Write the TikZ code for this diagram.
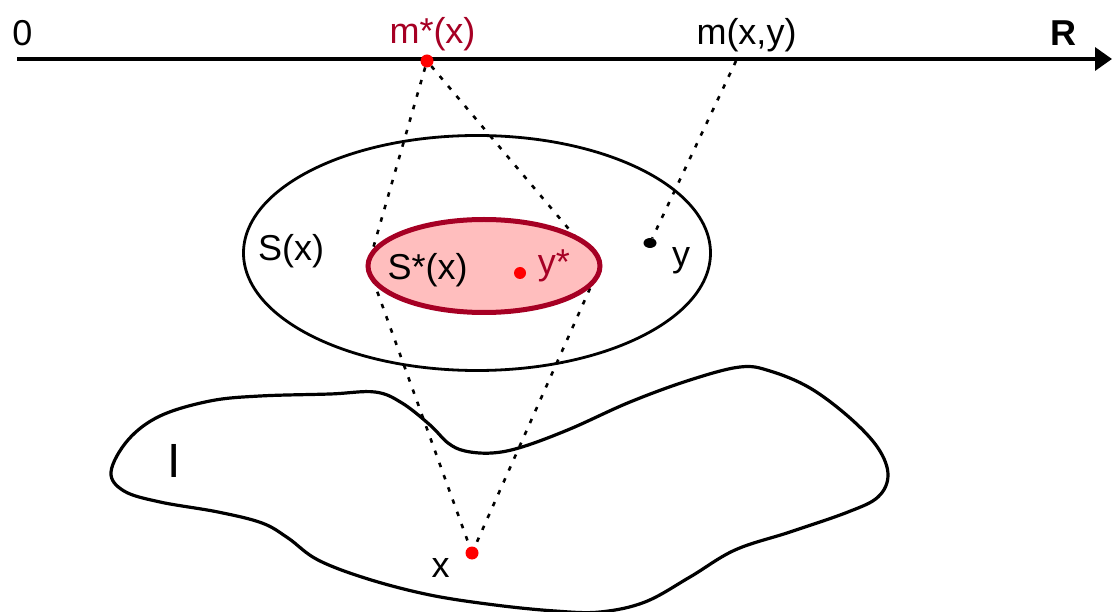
\documentclass[tikz,border=0pt]{standalone}
\usepackage{fontspec}
\setmainfont{Liberation Sans}
\usetikzlibrary{arrows.meta,shapes.geometric}
\definecolor{darkred}{RGB}{166,0,36}
\definecolor{pinkfill}{RGB}{255,190,190}
\begin{document}
\begin{tikzpicture}[x=1pt,y=-1pt,
  lbl/.style={font=\fontsize{36}{42}\selectfont, inner sep=0, anchor=base},
  dotline/.style={line width=2.6pt, dash pattern=on 4.5pt off 8.5pt},
  reddot/.style={circle, fill=red, inner sep=0, minimum size=13pt},
  blackdot/.style={ellipse, fill=black, inner sep=0, minimum width=13pt, minimum height=10pt}]
\useasboundingbox (0,0) rectangle (1112,612);
% axis
\coordinate (axstart) at (17,59);
\coordinate (axend) at (1112,59);
\draw[line width=3.5pt, -{Triangle[length=17pt,width=23pt]}] (axstart) -- (axend);
\node[lbl] (zero) at (22.5,46) {0};
\node[lbl, text=darkred] (mlab) at (432.5,44) {m*(x)};
\node[lbl] (mxylab) at (746.5,45) {m(x,y)};
\node[lbl, font=\fontsize{36}{42}\selectfont\bfseries] (Rlab) at (1063.5,46) {R};
% blob I
\draw[line width=3.2pt] plot[smooth cycle, tension=0.6] coordinates {
 (111,472) (128,440) (160,416) (210,401) (260,396) (330,394) (375,392)
 (402,403) (430,425) (448,443) (465,451) (492,453) (522,447) (570,429)
 (630,402) (690,380) (740,367) (770,371) (810,388) (850,418) (878,448)
 (888,475) (878,497) (848,512) (790,532) (735,550) (690,577) (645,602)
 (600,612) (555,611) (495,605) (430,595) (368,579) (318,560) (288,538)
 (262,523) (218,512) (160,502) (124,491)};
\node[lbl, font=\fontsize{48}{54}\selectfont] (Ilab) at (174.5,477) {I};
% outer ellipse
\node[ellipse, draw, line width=2.8pt, inner sep=0, minimum width=467pt, minimum height=235pt] (outer) at (477,253) {};
\node[lbl] (Sx) at (291,261) {S(x)};
% points
\node[reddot] (mstar) at (427,61) {};
\node[reddot] (xpt) at (472,553) {};
\node[blackdot] (ypt) at (650,243) {};
\coordinate (mxy) at (736,61);
\node[lbl] (xlab) at (440.5,577) {x};
\node[lbl] (ylab) at (681,267) {y};
% inner ellipse geometry (for line ends)
\coordinate (innerW) at (368,266);
\coordinate (innerE) at (600,266);
% dotted lines
\draw[dotline] (mstar) -- (innerW) -- (xpt);
\draw[dotline] (mstar) -- (innerE) -- (xpt);
\draw[dotline] (mxy) -- (ypt);
% inner ellipse
\node[ellipse, draw=darkred, fill=pinkfill, line width=5pt, inner sep=0, minimum width=232pt, minimum height=93pt] (inner) at (484,266) {};
\node[lbl] (Sstar) at (427.5,280) {S*(x)};
\node[reddot, minimum size=12pt] (ystar) at (520,273) {};
\node[lbl, text=darkred] (ystarlab) at (554,275) {y*};
\end{tikzpicture}
\end{document}
